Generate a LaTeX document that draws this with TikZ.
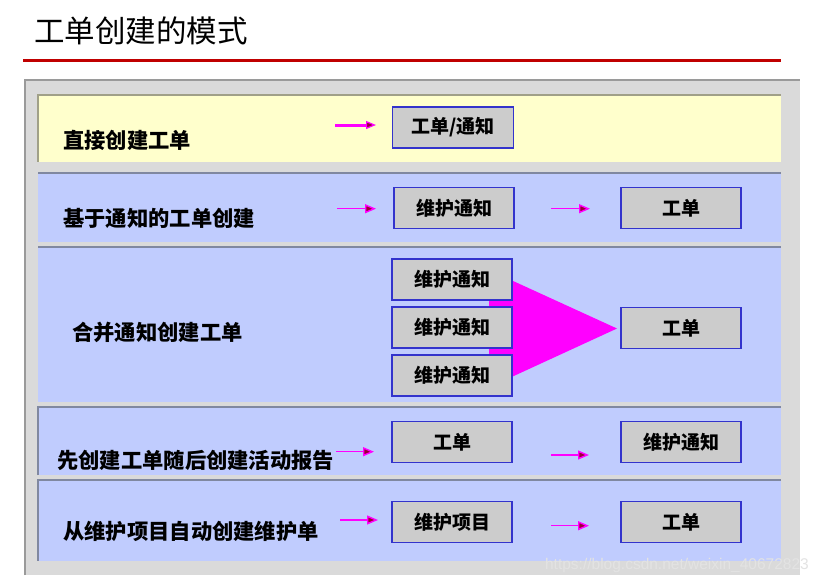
\documentclass[tikz,border=0pt]{standalone}
\usepackage{fontspec}
\setmainfont{Noto Sans CJK SC}
\newfontfamily\latinfont{Liberation Sans}
\usetikzlibrary{arrows.meta}
\definecolor{redline}{HTML}{C00000}
\definecolor{panelgray}{HTML}{DADADA}
\definecolor{panelborder}{HTML}{9A9A9A}
\definecolor{rowyellow}{HTML}{FFFFCC}
\definecolor{rowblue}{HTML}{C0CCFE}
\definecolor{yellowedge}{HTML}{A0A088}
\definecolor{blueedge}{HTML}{8088A0}
\definecolor{boxgray}{HTML}{CCCCCC}
\definecolor{boxedge}{HTML}{3333CC}
\definecolor{headred}{HTML}{990033}
\definecolor{pinkm}{HTML}{FF00FF}
\tikzset{
  wbox/.style={draw=boxedge, fill=boxgray, line width=1.2pt, minimum width=120pt, minimum height=41pt, inner sep=0pt, font=\fontsize{19}{21}\selectfont\bfseries},
  rowlabel/.style={anchor=west, inner sep=0pt, font=\fontsize{21.3}{23}\selectfont\bfseries},
  flow/.style={draw=pinkm, line width=1.4pt, -{Triangle[length=11pt,width=9pt,fill=headred]}},
  flowthick/.style={draw=pinkm, line width=3pt, -{Triangle[length=10pt,width=8pt,fill=headred,line width=1.2pt]}}
}
\begin{document}
\begin{tikzpicture}[x=1pt,y=-1pt]
\useasboundingbox (0,0) rectangle (819,584);
\fill[white] (0,0) rectangle (819,584);
% title
\node[anchor=west, inner sep=0pt, font=\fontsize{30.5}{32}\selectfont] (title) at (34,31) {工单创建的模式};
\draw[redline, line width=3pt] (23,60) -- (781,60);
% outer panel
\fill[panelgray] (25,80) rectangle (800,575);
\draw[panelborder, line width=1.2pt] (25,575) -- (25,80) -- (800,80);
% rows
\fill[rowyellow] (38,95) rectangle (781,161.5);
\draw[yellowedge, line width=1.2pt] (38,161.5) -- (38,95) -- (781,95);
\fill[rowblue] (38,173) rectangle (781,241.5);
\draw[blueedge, line width=1.2pt] (38,173) -- (781,173);
\fill[rowblue] (38,247) rectangle (781,401.5);
\draw[blueedge, line width=1.2pt] (38,247) -- (781,247);
\fill[rowblue] (38,407) rectangle (781,475);
\draw[blueedge, line width=1.2pt] (38,475) -- (38,407) -- (781,407);
\fill[rowblue] (38,480) rectangle (781,560.5);
\draw[blueedge, line width=1.2pt] (38,560.5) -- (38,480) -- (781,480);
% row labels
\node[rowlabel] (l1) at (63,140) {直接创建工单};
\node[rowlabel] (l2) at (63,218) {基于通知的工单创建};
\node[rowlabel] (l3) at (72,332) {合并通知创建工单};
\node[rowlabel] (l4) at (57,460) {先创建工单随后创建活动报告};
\node[rowlabel] (l5) at (63,531) {从维护项目自动创建维护单};
% row 1
\node[wbox, minimum width=121pt] (r1a) at (453,127.5) {工单/通知};
\coordinate (r1s) at (335,125);
\coordinate (r1e) at (376,125);
\draw[flowthick] (r1s) -- (r1e);
% row 2
\node[wbox] (r2a) at (454,208.3) {维护通知};
\node[wbox] (r2b) at (681,208.3) {工单};
\coordinate (r2s) at (337,208.7);
\coordinate (r2e) at (376,208.7);
\coordinate (r2s2) at (551,208.7);
\coordinate (r2e2) at (590,208.7);
\draw[flow] (r2s) -- (r2e);
\draw[flow] (r2s2) -- (r2e2);
% row 3 merge arrow
\fill[pinkm] (489,300) -- (512,300) -- (512,280.5) -- (617,328.5) -- (512,376.8) -- (512,355) -- (489,355) -- cycle;
\node[wbox] (r3a) at (452,279.5) {维护通知};
\node[wbox] (r3b) at (452,327.5) {维护通知};
\node[wbox] (r3c) at (452,375.5) {维护通知};
\node[wbox] (r3d) at (681,328) {工单};
% row 4
\node[wbox] (r4a) at (452,441.8) {工单};
\node[wbox] (r4b) at (681,441.8) {维护通知};
\coordinate (r4s) at (336,451.7);
\coordinate (r4e) at (374,451.7);
\coordinate (r4s2) at (551,455);
\coordinate (r4e2) at (589,455);
\draw[flow] (r4s) -- (r4e);
\draw[flow] (r4s2) -- (r4e2);
% row 5
\node[wbox] (r5a) at (452,521.8) {维护项目};
\node[wbox] (r5b) at (681,521.8) {工单};
\coordinate (r5s) at (340,520);
\coordinate (r5e) at (378,520);
\coordinate (r5s2) at (551,525.7);
\coordinate (r5e2) at (589,525.7);
\draw[flow] (r5s) -- (r5e);
\draw[flow] (r5s2) -- (r5e2);
% watermark
\node[anchor=east, inner sep=0pt, text=white!78!gray, font=\latinfont\fontsize{15.5}{16}\selectfont] (wm) at (809,565) {https://blog.csdn.net/weixin\_40672823};
\end{tikzpicture}
\end{document}
